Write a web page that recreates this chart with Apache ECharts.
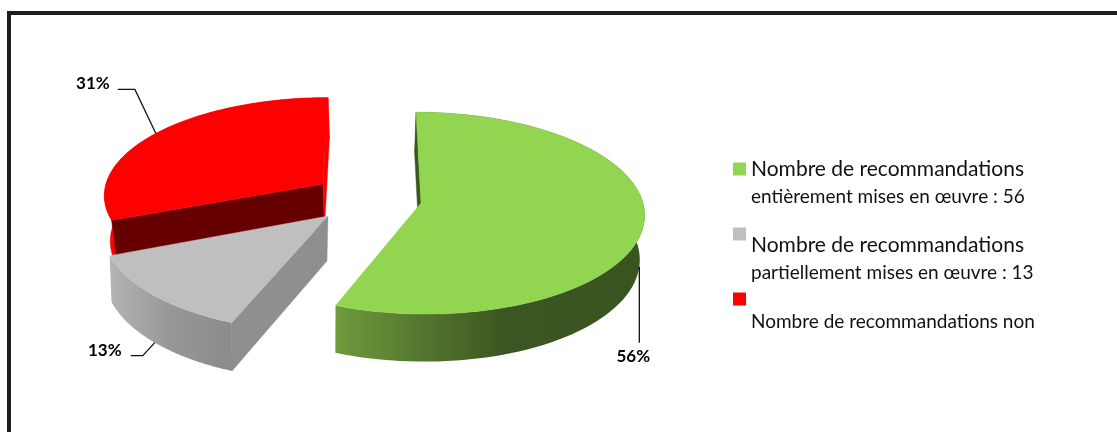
<!DOCTYPE html>
<html><head><meta charset="utf-8">
<style>html,body{margin:0;padding:0;background:#fff}#c{width:1117px;height:432px}</style>
<script src="https://cdn.jsdelivr.net/npm/echarts@6/dist/echarts.min.js"></script>
</head><body><div id="c"></div>
<script>
// --- data ---
const categories = ['entièrement', 'partiellement', 'non'];
const counts = [56, 13, 31];
const legendFirstLines = ['Nombre de recommandations', 'Nombre de recommandations', 'Nombre de recommandations non'];
const legendSecondLines = ['entièrement mises en œuvre : 56', 'partiellement mises en œuvre : 13', ''];
const sliceColors = ['#92d551', '#bfbfbf', '#ff0000'];

// --- layout of the exploded, tilted pie (not data) ---
const PERSP = 0.1;
const slicePose = [
  {ax: 421, ay: 203, R: 222, A: 100, sk: 5, s: 0.985, shift: -1.5, depth: 44},
  {ax: 328, ay: 216, R: 224, A: 104, sk: -5.7, s: 0.987, shift: -1, depth: 45},
  {ax: 323, ay: 184, R: 217, A: 95, sk: -5, s: 0.98, shift: 1.5, depth: 45}
];
const sliceLabel = [
  {atBottom: true, line: [[0, 76]], text: [-6, 90]},
  {atBottom: true, line: [[-12, 13], [-24, 13]], text: [-50, 8]},
  {atBottom: false, line: [[-21, -44], [-38, -44]], text: [-63, -50]}
];
const wallFill = [
  {type: 'linear', x: 0, y: 0, x2: 1, y2: 0, colorStops: [
    {offset: 0, color: '#6f9b3d'}, {offset: 0.25, color: '#567a30'}, {offset: 0.55, color: '#3b5621'}, {offset: 1, color: '#3a5420'}]},
  {type: 'linear', x: 0, y: 0, x2: 1, y2: 0, colorStops: [
    {offset: 0, color: '#b4b4b4'}, {offset: 0.5, color: '#979797'}, {offset: 1, color: '#8b8b8b'}]},
  '#ff0000'
];
// fill of the cut face at the start and at the end of each slice
const cutFill = [
  ['#3b5621', null],
  ['#8f8f8f', null],
  ['#660000', '#ff0000']
];

const total = counts.reduce((a, b) => a + b, 0);

function topPoint(p, deg) {
  const t = deg * Math.PI / 180, u = Math.sin(t), v = -Math.cos(t), k = 1 / (1 - PERSP * v);
  return {x: p.ax + p.R * u * k + p.sk * v, y: p.ay + p.A * v * k, v};
}
function bottomPoint(p, deg) {
  const q = topPoint(p, deg);
  return [p.ax + (q.x - p.ax) * p.s + p.shift, q.y + p.depth * (1 + 0.08 * q.v)];
}
function apexBottom(p) { return [p.ax + p.shift, p.ay + p.depth]; }

function renderSlice(index) {
  return function (params, api) {
    const value = api.value(0);
    const before = counts.slice(0, index).reduce((a, b) => a + b, 0);
    const a0 = before / total * 360, a1 = (before + value) / total * 360;
    const p = slicePose[index], n = 90;
    const topArc = [], botArc = [];
    for (let i = 0; i <= n; i++) {
      const d = a0 + (a1 - a0) * i / n, q = topPoint(p, d);
      topArc.push([q.x, q.y]);
      botArc.push(bottomPoint(p, d));
    }
    const apex = [p.ax, p.ay], children = [];
    const poly = (points, fill, z2) => children.push({
      type: 'polygon', z2, shape: {points},
      style: {fill, stroke: typeof fill === 'string' ? fill : null, lineWidth: 0.4}
    });
    const cut = cutFill[index];
    poly(topArc.concat(botArc.slice().reverse()), wallFill[index], 1);
    if (cut[0]) poly([apex, topArc[0], botArc[0], apexBottom(p)], cut[0], 2);
    if (cut[1]) poly([apex, topArc[n], botArc[n], apexBottom(p)], cut[1], 2);
    poly([apex].concat(topArc), sliceColors[index], 3);

    const mid = (a0 + a1) / 2, lab = sliceLabel[index];
    const q = topPoint(p, mid);
    const anc = lab.atBottom ? bottomPoint(p, mid) : [q.x, q.y];
    children.push({
      type: 'polyline', z2: 5,
      shape: {points: [anc].concat(lab.line.map(o => [anc[0] + o[0], anc[1] + o[1]]))},
      style: {fill: null, stroke: '#111', lineWidth: 1.3}
    });
    children.push({
      type: 'text', z2: 6, x: anc[0] + lab.text[0], y: anc[1] + lab.text[1],
      style: {text: Math.round(value / total * 100) + '%', align: 'center', verticalAlign: 'middle',
        font: 'bold 17px Lato', fill: '#000'}
    });
    return {type: 'group', children};
  };
}

const legendTops = [127, 181, 262];
const legendGap = [28, 50, 46];
const legendOf = i => ({
  left: 733, top: legendTops[i], orient: 'vertical', selectedMode: false, icon: 'rect',
  itemWidth: 13, itemHeight: 13, padding: 0, data: [categories[i]],
  formatter: () => '{gap| }\n{a|' + legendFirstLines[i] + '}' +
    (legendSecondLines[i] ? '\n{b|' + legendSecondLines[i] + '}' : ''),
  textStyle: {rich: {
    gap: {lineHeight: legendGap[i], height: legendGap[i], fontSize: 10},
    a: {fontFamily: 'Lato', fontSize: i === 2 ? 19 : 21, lineHeight: 28, height: 28, color: '#111'},
    b: {fontFamily: 'Lato', fontSize: 19, lineHeight: 28, height: 28, color: '#111'}
  }}
});

// painted back to front: red, grey, green
const paintOrder = [2, 1, 0];
const chart = echarts.init(document.getElementById('c'), null, {renderer: 'canvas'});
chart.setOption({
  animation: false,
  backgroundColor: '#fff',
  legend: [0, 1, 2].map(legendOf),
  graphic: [{
    type: 'polyline', silent: true,
    shape: {points: [[9, 432], [9, 13], [1117, 13]]},
    style: {fill: null, stroke: '#1e1e1e', lineWidth: 4}
  }],
  series: paintOrder.map(i => ({
    type: 'custom', name: categories[i], coordinateSystem: 'none',
    data: [counts[i]], itemStyle: {color: sliceColors[i]},
    renderItem: renderSlice(i), silent: true, clip: false
  }))
});
</script></body></html>
